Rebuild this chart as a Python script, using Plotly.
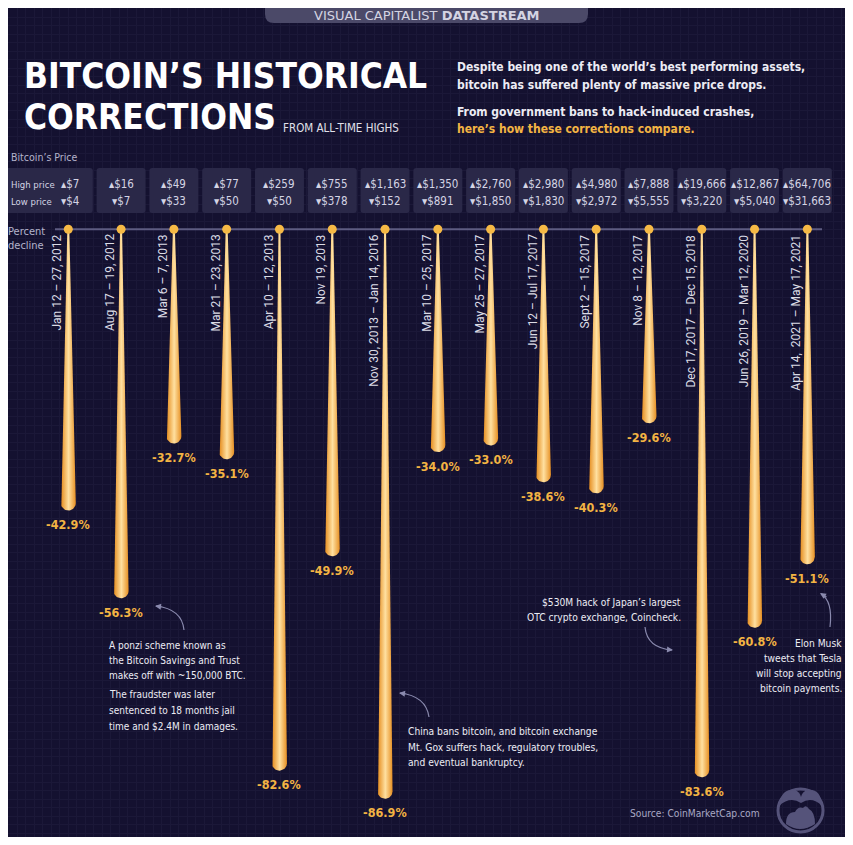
import plotly.graph_objects as go
import numpy as np

# ---------------- data ----------------
dates = ["Jan 12 – 27, 2012", "Aug 17 – 19, 2012", "Mar 6 – 7, 2013", "Mar 21 – 23, 2013",
         "Apr 10 – 12, 2013", "Nov 19, 2013", "Nov 30, 2013 – Jan 14, 2016", "Mar 10 – 25, 2017",
         "May 25 – 27, 2017", "Jun 12 – Jul 17, 2017", "Sept 2 – 15, 2017", "Nov 8 – 12, 2017",
         "Dec 17, 2017 – Dec 15, 2018", "Jun 26, 2019 – Mar 12, 2020", "Apr 14,  2021 – May 17, 2021"]
high_prices = ["$7", "$16", "$49", "$77", "$259", "$755", "$1,163", "$1,350", "$2,760", "$2,980",
               "$4,980", "$7,888", "$19,666", "$12,867", "$64,706"]
low_prices = ["$4", "$7", "$33", "$50", "$50", "$378", "$152", "$891", "$1,850", "$1,830",
              "$2,972", "$5,555", "$3,220", "$5,040", "$31,663"]
declines = [-42.9, -56.3, -32.7, -35.1, -82.6, -49.9, -86.9, -34.0, -33.0, -38.6, -40.3, -29.6,
            -83.6, -60.8, -51.1]

# ---------------- geometry / style ----------------
OFF = 8                    # page margin of the browser body
W, H = 853 - 2 * OFF, 845 - 2 * OFF
X0, DX = 68.3, 52.79       # screen pixel of first category, pixels per category
Y0, DY = 229.3, 6.554      # screen pixel of 0 %, pixels per percent
BG = "#141130"
GRID = "#1b1838"
GOLD = "#f3b443"
WHITE = "#ececf4"
GREY = "#b4b4cc"
LIGHT = "#d4d4e4"
LOGO = "#55537a"
COND = "DejaVu Sans Condensed, DejaVu Sans, sans-serif"

def cx(i):
    return X0 + DX * i

fig = go.Figure()
# invisible trace on the pixel axes (which carry the background grid)
fig.add_trace(go.Scatter(x=[OFF], y=[OFF], mode="markers", marker=dict(opacity=0),
                         hoverinfo="skip", showlegend=False))

# drips (tapered bars)
ht, hb = 1.0 / DX, 7.5 / DX
ry = 7.5 / DY
for i, v in enumerate(declines):
    th = np.linspace(np.pi, 2 * np.pi, 25)
    xs = [i - ht, i - hb] + list(i + hb * np.cos(th)) + [i + hb, i + ht, i - ht]
    ys = [0, v + ry] + list(v + ry + ry * np.sin(th)) + [v + ry, 0, 0]
    fig.add_trace(go.Scatter(
        x=xs, y=ys, fill="toself", mode="lines",
        line=dict(width=0, color="rgba(0,0,0,0)"),
        fillgradient=dict(type="horizontal",
                          colorscale=[[0, "#e68f22"], [0.5, "#ffe0a0"], [1, "#e68f22"]]),
        xaxis="x2", yaxis="y2", hoverinfo="skip", showlegend=False))

# dots on the baseline
fig.add_trace(go.Scatter(x=list(range(len(declines))), y=[0] * len(declines), mode="markers",
                         marker=dict(size=9, color="#f6b945"), xaxis="x2", yaxis="y2",
                         hoverinfo="skip", showlegend=False))

def rrect(x0, y0, x1, y1, r):
    return (f"M {x0+r},{y0} L {x1-r},{y0} Q {x1},{y0} {x1},{y0+r} L {x1},{y1-r} "
            f"Q {x1},{y1} {x1-r},{y1} L {x0+r},{y1} Q {x0},{y1} {x0},{y1-r} "
            f"L {x0},{y0+r} Q {x0},{y0} {x0+r},{y0} Z")

shapes = []
shapes.append(dict(type="line", xref="x", yref="y", x0=55, x1=822, y0=Y0, y1=Y0,
                   line=dict(color="#5e5c82", width=2), layer="between"))
for i in range(len(declines)):
    x0 = 5 if i == 0 else cx(i) - 24.5
    shapes.append(dict(type="path", xref="x", yref="y", path=rrect(x0, 168, cx(i) + 24.5, 213, 3),
                       fillcolor="#2a2848", line=dict(width=0), layer="between"))
shapes.append(dict(type="path", xref="x", yref="y",
                   path="M 265,0 L 588,0 L 588,14 Q 588,23 579,23 L 274,23 Q 265,23 265,14 Z",
                   fillcolor="#4b4968", line=dict(width=0), layer="between"))
curves = ["M 184,630 Q 182,609 156,606",
          "M 429,717 Q 426,696 400,693",
          "M 645,627 Q 647,648 672,650",
          "M 821,594 Q 833,601 830,627"]
for p in curves:
    shapes.append(dict(type="path", xref="x", yref="y", path=p,
                       line=dict(color="#8a8aae", width=1.2), layer="between"))
# logo (simplified)
shapes.append(dict(type="circle", xref="x", yref="y", x0=778, x1=823, y0=789, y1=832,
                   line=dict(color=LOGO, width=3), layer="between"))
shapes.append(dict(type="path", xref="x", yref="y",
                   path="M 779,806 Q 781,788 795,790 Q 800,792 801,797 Q 802,792 807,790 "
                        "Q 821,788 822,806 Q 812,796 801,803 Q 790,796 779,806 Z",
                   fillcolor=LOGO, line=dict(width=0), layer="between"))
shapes.append(dict(type="path", xref="x", yref="y",
                   path="M 786,824 Q 786,812 795,812 Q 798,806 803,808 Q 806,804 809,809 "
                        "Q 815,812 815,824 Q 800,834 786,824 Z",
                   fillcolor=LOGO, line=dict(width=0), layer="between"))

ann = []
def txt(x, y, text, size, color=WHITE, family=COND, xanchor="left", weight="normal"):
    ann.append(dict(xref="x", yref="y", x=x, y=y, text=text, showarrow=False,
                    xanchor=xanchor, yanchor="middle",
                    font=dict(size=size, color=color, family=family, weight=weight)))

def lines(x, ys, texts, size, color=WHITE, xanchor="left", weight="normal"):
    for y, t in zip(ys, texts):
        txt(x, y, t, size, color=color, xanchor=xanchor, weight=weight)

# header
txt(427, 15, "VISUAL CAPITALIST <b>DATASTREAM</b>", 13, color="#d4d4e2",
    family="DejaVu Sans", xanchor="center")
txt(22, 76, "BITCOIN’S HISTORICAL", 35, color="#ffffff", weight="bold")
txt(22, 117, "CORRECTIONS", 35, color="#ffffff", weight="bold")
txt(281, 128, "FROM ALL-TIME HIGHS", 11.5, color="#e0e0ea")
lines(455, [67, 85], ["Despite being one of the world’s best performing assets,",
                      "bitcoin has suffered plenty of massive price drops."], 12, weight="bold")
lines(455, [112, 129], ["From government bans to hack-induced crashes,",
                        f"<span style='color:{GOLD}'>here’s how these corrections compare.</span>"],
      12, weight="bold")

# table
txt(8.5, 157, "Bitcoin’s Price", 10.5, color=GREY)
txt(8.5, 184, "High price", 9.5, color=LIGHT)
txt(8.5, 201, "Low price", 9.5, color=LIGHT)
txt(26, 231, "Percent", 11, color=GREY, xanchor="center")
txt(26, 245, "decline", 11, color=GREY, xanchor="center")
for i in range(len(declines)):
    sh = 2 if i == 0 else 0
    ann.append(dict(xref="x2", yref="y", x=i, y=184, xshift=sh, text="▴" + high_prices[i],
                    showarrow=False, xanchor="center", yanchor="middle",
                    font=dict(size=11.5, color=LIGHT, family=COND)))
    ann.append(dict(xref="x2", yref="y", x=i, y=201, xshift=sh, text="▾" + low_prices[i],
                    showarrow=False, xanchor="center", yanchor="middle",
                    font=dict(size=11.5, color=LIGHT, family=COND)))

# date labels and percent labels
for i, (d, v) in enumerate(zip(dates, declines)):
    ann.append(dict(xref="x2", yref="y2", x=i, y=0, xshift=-11, yshift=-3, text=d,
                    textangle=-90, showarrow=False, xanchor="center", yanchor="top",
                    font=dict(size=12, color="#dcdce6", family="Roboto")))
    ann.append(dict(xref="x2", yref="y2", x=i, y=v, yshift=-14, text=f"{v:.1f}%",
                    showarrow=False, xanchor="center", yanchor="middle",
                    font=dict(size=12.5, color=GOLD, family=COND, weight="bold")))

# story annotations
lines(107, [645, 660, 675, 694, 710, 726],
      ["A ponzi scheme known as", "the Bitcoin Savings and Trust", "makes off with ~150,000 BTC.",
       "The fraudster was later", "sentenced to 18 months jail", "time and $2.4M in damages."], 10)
lines(406, [731, 747, 762],
      ["China bans bitcoin, and bitcoin exchange", "Mt. Gox suffers hack, regulatory troubles,",
       "and eventual bankruptcy."], 10.2)
lines(683, [602, 617], ["$530M hack of Japan’s largest", "OTC crypto exchange, Coincheck."], 10.2,
      xanchor="right")
lines(844, [643, 658, 673, 688],
      ["Elon Musk", "tweets that Tesla", "will stop accepting", "bitcoin payments."], 10.2,
      xanchor="right")
txt(762, 813, "Source: CoinMarketCap.com", 10.2, color="#a8a8c4", xanchor="right")

# arrowheads
for (tx, ty, ax, ay) in [(155, 606, 8, 1), (399, 693, 8, 1), (673, 650, -8, -0.6), (820, 593, 8, 5)]:
    ann.append(dict(xref="x", yref="y", x=tx, y=ty, ax=ax, ay=ay, text="", showarrow=True,
                    arrowhead=2, arrowsize=1, arrowwidth=1.2, arrowcolor="#8a8aae"))

axis_px = dict(showgrid=True, gridcolor=GRID, gridwidth=1, tick0=0, dtick=8.5,
               showticklabels=False, zeroline=False, ticks="", showline=False, fixedrange=True)
fig.update_layout(
    width=W, height=H, margin=dict(l=0, r=0, t=0, b=0),
    paper_bgcolor=BG, plot_bgcolor=BG, showlegend=False,
    xaxis=dict(range=[OFF, OFF + W], domain=[0, 1], **axis_px),
    yaxis=dict(range=[OFF + H, OFF], domain=[0, 1], **axis_px),
    xaxis2=dict(overlaying="x", anchor="y2", visible=False, fixedrange=True,
                range=[(OFF - X0) / DX, (OFF + W - X0) / DX]),
    yaxis2=dict(overlaying="y", anchor="x2", visible=False, fixedrange=True,
                range=[(Y0 - OFF - H) / DY, (Y0 - OFF) / DY]),
    shapes=shapes, annotations=ann,
)

fig.write_html("out.html")
